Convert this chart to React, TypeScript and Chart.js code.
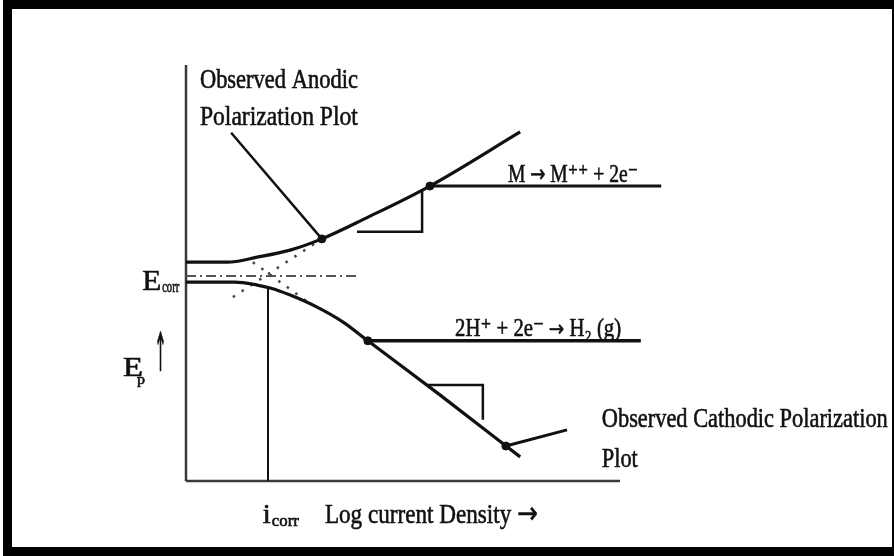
import { useEffect, useRef } from "react";
import { Chart, registerables } from "chart.js";

Chart.register(...registerables);

// Schematic Tafel diagram: electrode potential E (arbitrary units) against
// log current density (arbitrary units).

// Observed anodic polarization curve
const anodicLogI = [0, 0.95, 1.64, 2.4, 3.13, 4.15, 5.62, 7.7];
const anodicE = [5.26, 5.26, 5.38, 5.55, 5.82, 6.32, 7.09, 8.39];

// Observed cathodic polarization curve
const cathodicLogI = [0, 1.13, 1.64, 1.94, 2.4, 3.02, 3.62, 4.19, 5.85, 7.7];
const cathodicE = [4.78, 4.78, 4.71, 4.64, 4.47, 4.18, 3.82, 3.37, 2.07, 0.58];

// Corrosion potential and corrosion current
const E_CORR = 4.93;
const LOG_I_CORR = 1.89;
const ECORR_LINE_END = 4.01;

// Extrapolated Tafel lines (dotted), [logI, E] end points
const anodicTafelLogI = [1.08, 3.13];
const anodicTafelE = [4.42, 5.82];
const cathodicTafelLogI = [1.54, 2.9];
const cathodicTafelE = [5.26, 4.23];

// Slope triangles, [logI, E] corners
const anodicTriLogI = [3.94, 5.44, 5.44];
const anodicTriE = [5.99, 5.99, 6.97];
const cathodicTriLogI = [5.55, 6.84, 6.84];
const cathodicTriE = [2.31, 2.31, 1.47];

// Reaction leader lines: start on the curve, run right to the equation
const anodicReactionLogI = [5.62, 10.95];
const anodicReactionE = [7.09, 7.09];
const cathodicReactionLogI = [4.19, 10.48];
const cathodicReactionE = [3.37, 3.37];

// Callout pointers, [from label, to curve]
const anodicPointerLogI = [1.04, 3.13];
const anodicPointerE = [8.37, 5.82];
const cathodicPointerLogI = [8.78, 7.37];
const cathodicPointerE = [1.23, 0.84];

// Axis extents
const AXIS_LOG_I_MAX = 10;
const AXIS_E_MAX = 10;

const pts = (xs: number[], ys: number[]) => xs.map((x, i) => ({ x, y: ys[i] }));

type Part = { text: string; size: number; width?: number; dx?: number; dy?: number; font?: string };
type Label = { x: number; y: number; width?: number; parts: Part[] };

const SERIF = '"Liberation Serif", "DejaVu Serif", serif';
const SANS = '"DejaVu Sans", sans-serif';

const labels: Label[] = [
  { x: 0.32, y: 9.45, width: 158, parts: [{ text: "Observed Anodic", size: 28 }] },
  { x: 0.32, y: 8.56, width: 158, parts: [{ text: "Polarization Plot", size: 28 }] },
  {
    x: 7.42,
    y: 7.18,
    width: 130,
    parts: [
      { text: "M ", size: 26 },
      { text: "→", size: 24, font: SANS },
      { text: " M⁺⁺ + 2e⁻", size: 26 },
    ],
  },
  {
    x: 6.2,
    y: 3.49,
    width: 166,
    parts: [
      { text: "2H⁺ + 2e⁻ ", size: 25 },
      { text: "→", size: 22, font: SANS },
      { text: " H₂ (g)", size: 25 },
    ],
  },
  { x: 9.58, y: 1.3, width: 286, parts: [{ text: "Observed Cathodic Polarization", size: 28 }] },
  { x: 9.58, y: 0.34, width: 36, parts: [{ text: "Plot", size: 28 }] },
  {
    x: -1.01,
    y: 4.59,
    parts: [
      { text: "E", size: 30, width: 19 },
      { text: "corr", size: 16, width: 17, dx: 1, dy: 2 },
    ],
  },
  {
    x: -1.45,
    y: 2.52,
    parts: [
      { text: "E", size: 28, width: 20 },
      { text: "p", size: 15, width: 8, dx: -6, dy: 8 },
      { text: "↑", size: 54, width: 13, dx: 9, dy: -5, font: SANS },
    ],
  },
  {
    x: 1.77,
    y: -1.01,
    parts: [
      { text: "i", size: 28, width: 8 },
      { text: "corr", size: 16, width: 27, dx: 1, dy: 3 },
    ],
  },
  {
    x: 3.2,
    y: -1.01,
    width: 213,
    parts: [
      { text: "Log current Density ", size: 28 },
      { text: "→", size: 30, font: SANS },
    ],
  },
];

const textPlugin = {
  id: "diagramText",
  afterDatasetsDraw(chart: any) {
    const { ctx, scales } = chart;
    ctx.save();
    ctx.fillStyle = "#111";
    ctx.strokeStyle = "#111";
    ctx.lineWidth = 0.6;
    ctx.textBaseline = "alphabetic";
    ctx.textAlign = "left";
    for (const lab of labels) {
      let px = scales.x.getPixelForValue(lab.x);
      const py = scales.y.getPixelForValue(lab.y);
      const natural = lab.parts.map((p) => {
        ctx.font = `${p.size}px ${p.font ?? SERIF}`;
        return ctx.measureText(p.text).width;
      });
      const total = natural.reduce((a, b) => a + b, 0);
      const k = lab.width ? lab.width / total : 1;
      lab.parts.forEach((p, i) => {
        ctx.font = `${p.size}px ${p.font ?? SERIF}`;
        const w = natural[i];
        const target = p.width ?? w * k;
        px += p.dx ?? 0;
        ctx.save();
        ctx.translate(px, py + (p.dy ?? 0));
        ctx.scale(target / w, 1);
        ctx.fillText(p.text, 0, 0);
        ctx.strokeText(p.text, 0, 0);
        ctx.restore();
        px += target;
      });
    }
    ctx.restore();
  },
};

export default function App() {
  const ref = useRef<HTMLCanvasElement | null>(null);

  useEffect(() => {
    if (!ref.current) return;
    const ink = "#111";
    const line = (data: { x: number; y: number }[], extra: any = {}) => ({
      data,
      showLine: true,
      pointRadius: 0,
      borderColor: ink,
      borderWidth: 3,
      fill: false,
      clip: false,
      ...extra,
    });

    const chart = new Chart(ref.current, {
      type: "scatter",
      data: {
        datasets: [
          line(pts(anodicLogI, anodicE), { cubicInterpolationMode: "monotone", borderWidth: 3.2 }),
          line(pts(cathodicLogI, cathodicE), { cubicInterpolationMode: "monotone", borderWidth: 3.2 }),
          line(pts(anodicTafelLogI, anodicTafelE), { borderDash: [2.5, 8], borderColor: "#444", borderWidth: 2.5 }),
          line(pts(cathodicTafelLogI, cathodicTafelE), { borderDash: [2.5, 8], borderColor: "#444", borderWidth: 2.5 }),
          line(pts([0, ECORR_LINE_END], [E_CORR, E_CORR]), {
            borderDash: [10, 4, 2, 4],
            borderColor: "#555",
            borderWidth: 2,
          }),
          line(pts([LOG_I_CORR, LOG_I_CORR], [0, 4.64]), { borderWidth: 2 }),
          line(pts(anodicTriLogI, anodicTriE), { borderWidth: 2.5 }),
          line(pts(cathodicTriLogI, cathodicTriE), { borderWidth: 2.5 }),
          line(pts(anodicReactionLogI, anodicReactionE), { borderWidth: 3 }),
          line(pts(cathodicReactionLogI, cathodicReactionE), { borderWidth: 3.5 }),
          line(pts(anodicPointerLogI, anodicPointerE), { borderWidth: 2.5 }),
          line(pts(cathodicPointerLogI, cathodicPointerE), { borderWidth: 3 }),
          {
            data: [
              { x: anodicPointerLogI[1], y: anodicPointerE[1] },
              { x: anodicReactionLogI[0], y: anodicReactionE[0] },
              { x: cathodicReactionLogI[0], y: cathodicReactionE[0] },
              { x: cathodicPointerLogI[1], y: cathodicPointerE[1] },
            ],
            pointRadius: 4,
            pointBackgroundColor: ink,
            pointBorderColor: ink,
            showLine: false,
            clip: false,
          },
          // axes
          line(pts([0, 0], [0, AXIS_E_MAX]), { borderColor: "#3a3a3a", borderWidth: 2.5 }),
          line(pts([0, AXIS_LOG_I_MAX], [0, 0]), { borderColor: "#3a3a3a", borderWidth: 2.5 }),
        ] as any,
      },
      options: {
        animation: false,
        responsive: false,
        devicePixelRatio: 1,
        events: [],
        layout: { padding: { left: 174, right: 272, top: 56, bottom: 66 } },
        scales: {
          x: { type: "linear", min: 0, max: AXIS_LOG_I_MAX, display: false },
          y: { type: "linear", min: 0, max: AXIS_E_MAX, display: false },
        },
        plugins: { legend: { display: false }, tooltip: { enabled: false } },
      },
      plugins: [textPlugin],
    });
    return () => chart.destroy();
  }, []);

  return (
    <div style={{ position: "fixed", left: 0, top: 0, width: 894, height: 556, background: "#fff" }}>
      <div style={{ position: "absolute", left: 3, top: 0, width: 891, height: 556, background: "#000" }} />
      <div style={{ position: "absolute", left: 12, top: 9, width: 880, height: 538, background: "#fff" }}>
        <canvas ref={ref} width={880} height={538} style={{ display: "block" }} />
      </div>
    </div>
  );
}
